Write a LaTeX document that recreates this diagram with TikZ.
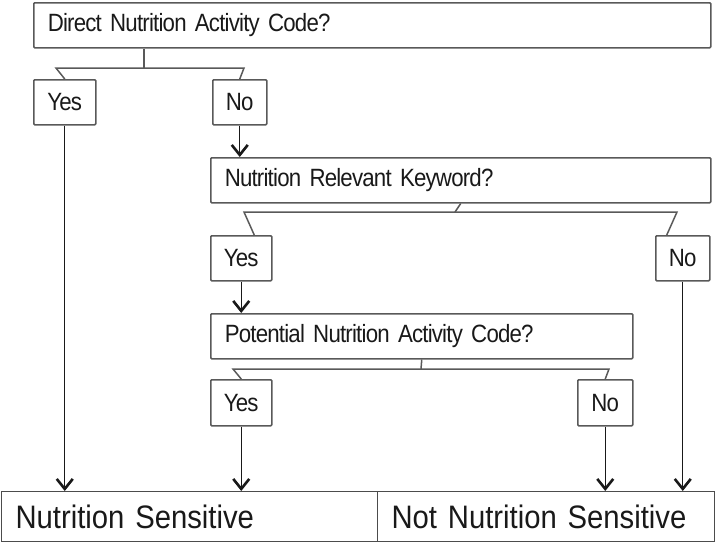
\documentclass[tikz,border=0pt]{standalone}
\usepackage{fontspec}
\usetikzlibrary{arrows.meta}
\newfontfamily\qfont[FakeStretch=0.89, LetterSpace=-3.2]{Liberation Sans}
\newfontfamily\rfont[FakeStretch=0.9]{Liberation Sans}
\newcommand{\qtext}{\qfont\fontsize{25}{28}\selectfont\spaceskip=5pt\relax}
\newcommand{\rtext}{\rfont\fontsize{32.5}{36}\selectfont\spaceskip=7.5pt\relax}

\tikzset{
	qbox/.style={draw=black!65, line width=1.5pt, rounded corners=1pt, anchor=north west, minimum height=45pt, inner xsep=14pt, align=left, text=black!90, font=\qtext},
	abox/.style={draw=black!65, line width=1.5pt, rounded corners=1pt, anchor=north west, minimum height=45pt, inner sep=0pt, text=black!90, font=\qtext},
	rbox/.style={draw=black!70, line width=1.2pt, anchor=north west, minimum height=50pt, inner xsep=14pt, align=left, text=black!90, font=\rtext},
	fork/.style={draw=black!65, line width=1.5pt},
	arrow/.style={draw=black!90, line width=1.2pt, -{Straight Barb[length=10pt,width=16pt,line width=2.6pt]}}
}

\begin{document}
\begin{tikzpicture}[x=1pt, y=-1pt]
	\useasboundingbox (0,0) rectangle (715,544);
	\node[qbox, text width=649pt] (direct) at (33,2) {Direct Nutrition Activity Code?};
	\node[abox, minimum width=62pt] (yes1) at (33,79) {Yes};
	\node[abox, minimum width=54pt] (no1) at (212,79) {No};
	\node[qbox, text width=472pt] (keyword) at (210,157) {Nutrition Relevant Keyword?};
	\node[abox, minimum width=61pt] (yes2) at (210,235) {Yes};
	\node[abox, minimum width=54pt] (no2) at (655,235) {No};
	\node[qbox, text width=394pt] (potential) at (210,313) {Potential Nutrition Activity Code?};
	\node[abox, minimum width=61pt, minimum height=46pt] (yes3) at (210,379) {Yes};
	\node[abox, minimum width=55pt, minimum height=46pt] (no3) at (577,379) {No};
	\node[rbox, text width=348pt] (sens) at (1,491) {Nutrition Sensitive};
	\node[rbox, text width=309pt] (notsens) at (377,491) {Not Nutrition Sensitive};

	\coordinate (forkA) at (144,68);
	\coordinate (forkAl) at (56,68);
	\coordinate (forkAr) at (244,68);
	\coordinate (forkB) at (455,212);
	\coordinate (forkBl) at (244,212);
	\coordinate (forkBr) at (677,212);
	\coordinate (forkC) at (421,369);
	\coordinate (forkCl) at (233,369);
	\coordinate (forkCr) at (609,369);

	\draw[fork] (direct.south -| forkA) -- (forkA);
	\draw[fork] (yes1.north) -- (forkAl) -- (forkAr) -- (no1.north);
	\draw[fork] (keyword.south) -- (forkB);
	\draw[fork] ([xshift=13pt]yes2.north) -- (forkBl) -- (forkBr) -- ([xshift=-16pt]no2.north);
	\draw[fork] (potential.south) -- (forkC);
	\draw[fork] (yes3.north) -- (forkCl) -- (forkCr) -- (no3.north);

	\draw[arrow] (no1.south) -- (no1.south |- keyword.north);
	\draw[arrow] (yes2.south) -- (yes2.south |- potential.north);
	\draw[arrow] (yes1.south) -- (yes1.south |- sens.north);
	\draw[arrow] (yes3.south) -- (yes3.south |- sens.north);
	\draw[arrow] (no3.south) -- (no3.south |- notsens.north);
	\draw[arrow] (no2.south) -- (no2.south |- notsens.north);
\end{tikzpicture}
\end{document}
